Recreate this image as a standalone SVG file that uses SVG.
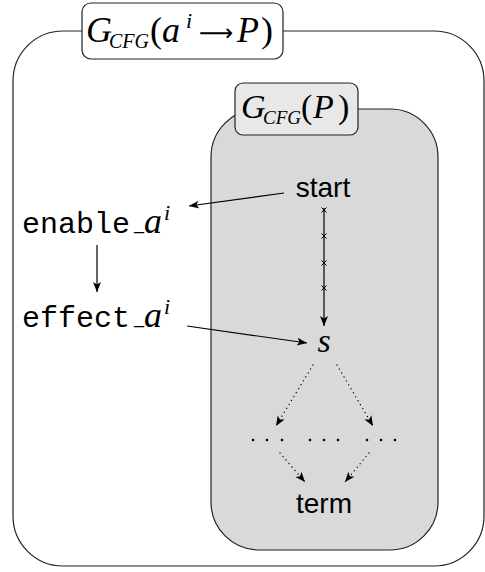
<svg xmlns="http://www.w3.org/2000/svg" width="485" height="572" viewBox="0 0 485 572">
<defs>
<style>
.box{stroke:#222;stroke-width:1.2}
.m{font-family:"Liberation Serif",serif;font-style:italic;fill:#000}
.up{font-family:"Liberation Serif",serif;font-style:normal;fill:#000}
.ar{font-family:"DejaVu Sans",sans-serif;font-style:normal;fill:#000}
.tt{font-family:"Liberation Mono",monospace;font-size:30px;fill:#000}
.sf{font-family:"Liberation Sans",Arial,sans-serif;font-size:28px;fill:#000}
.ln{stroke:#000;stroke-width:1.2;fill:none}
.dt{stroke:#000;stroke-width:1.3;fill:none;stroke-dasharray:0.1 4.5;stroke-linecap:round}
.xm{stroke:#000;stroke-width:1;fill:none}
</style>
<marker id="ah" viewBox="0 0 10 10" refX="10" refY="5" markerWidth="10" markerHeight="10" markerUnits="userSpaceOnUse" orient="auto">
<path d="M0,1 L10,5 L0,9 L2.5,5 Z" fill="#000"/>
</marker>
</defs>
<g id="outer">
<rect class="box" x="13" y="31" width="471" height="535" rx="50" ry="50" fill="#fff"/>
</g>
<g id="outer-label">
<rect class="box" x="82" y="3" width="201" height="56" rx="9" ry="9" fill="#fff"/>
<text class="m" font-size="36"><tspan x="86" y="42">G</tspan><tspan x="109" y="48" font-size="20">CFG</tspan><tspan class="up" x="150" y="42">(</tspan><tspan x="162" y="42">a</tspan><tspan x="186" y="28" font-size="22">i</tspan><tspan class="ar" x="199" y="41" font-size="24">⟶</tspan><tspan x="237" y="42">P</tspan><tspan class="up" x="261" y="42">)</tspan></text>
</g>
<g id="inner">
<rect class="box" x="211" y="109" width="227" height="441" rx="48" ry="48" fill="#d9d9d9"/>
</g>
<g id="inner-label">
<rect class="box" x="235" y="83" width="123" height="52" rx="8" ry="8" fill="#e8e8e8"/>
<text class="m" font-size="34"><tspan x="241" y="118">G</tspan><tspan x="263" y="124" font-size="19">CFG</tspan><tspan class="up" x="301" y="118">(</tspan><tspan x="313" y="118">P</tspan><tspan class="up" x="338" y="118">)</tspan></text>
</g>
<g id="start"><text class="sf" x="323" y="197" text-anchor="middle">start</text></g>
<g id="s"><text class="m" font-size="34" x="324" y="352" text-anchor="middle">s</text></g>
<g id="term"><text class="sf" x="324" y="513" text-anchor="middle">term</text></g>
<g id="enable"><text x="22" y="233"><tspan class="tt">enable</tspan><tspan class="up" font-size="20" x="134" y="230">_</tspan><tspan class="m" font-size="36" x="144" y="233">a</tspan><tspan class="m" font-size="22" x="164" y="220">i</tspan></text></g>
<g id="effect"><text x="22" y="327"><tspan class="tt">effect</tspan><tspan class="up" font-size="20" x="134" y="324">_</tspan><tspan class="m" font-size="36" x="144" y="327">a</tspan><tspan class="m" font-size="22" x="164" y="314">i</tspan></text></g>
<g id="dots">
<g fill="#000">
<circle cx="253" cy="440" r="1.3"/><circle cx="267" cy="440" r="1.3"/><circle cx="282" cy="440" r="1.3"/>
<circle cx="310" cy="440" r="1.3"/><circle cx="324" cy="440" r="1.3"/><circle cx="338" cy="440" r="1.3"/>
<circle cx="367" cy="440" r="1.3"/><circle cx="381" cy="440" r="1.3"/><circle cx="395" cy="440" r="1.3"/>
</g>
</g>
<g id="connectors">
<line class="ln" x1="284" y1="193" x2="189" y2="206" marker-end="url(#ah)"/>
<line class="ln" x1="97" y1="245" x2="97" y2="292" marker-end="url(#ah)"/>
<line class="ln" x1="187" y1="326" x2="307" y2="343" marker-end="url(#ah)"/>
<line class="ln" x1="324" y1="208" x2="324" y2="326" marker-end="url(#ah)"/>
<path class="xm" d="M321.5,207.5 l5,5 m0,-5 l-5,5 M321.5,233.5 l5,5 m0,-5 l-5,5 M321.5,260.5 l5,5 m0,-5 l-5,5 M321.5,285.5 l5,5 m0,-5 l-5,5"/>
<line class="dt" x1="313" y1="365" x2="276" y2="426" marker-end="url(#ah)"/>
<line class="dt" x1="337" y1="365" x2="373" y2="426" marker-end="url(#ah)"/>
<line class="dt" x1="280" y1="453" x2="305" y2="482" marker-end="url(#ah)"/>
<line class="dt" x1="369" y1="453" x2="345" y2="482" marker-end="url(#ah)"/>
</g>
</svg>
